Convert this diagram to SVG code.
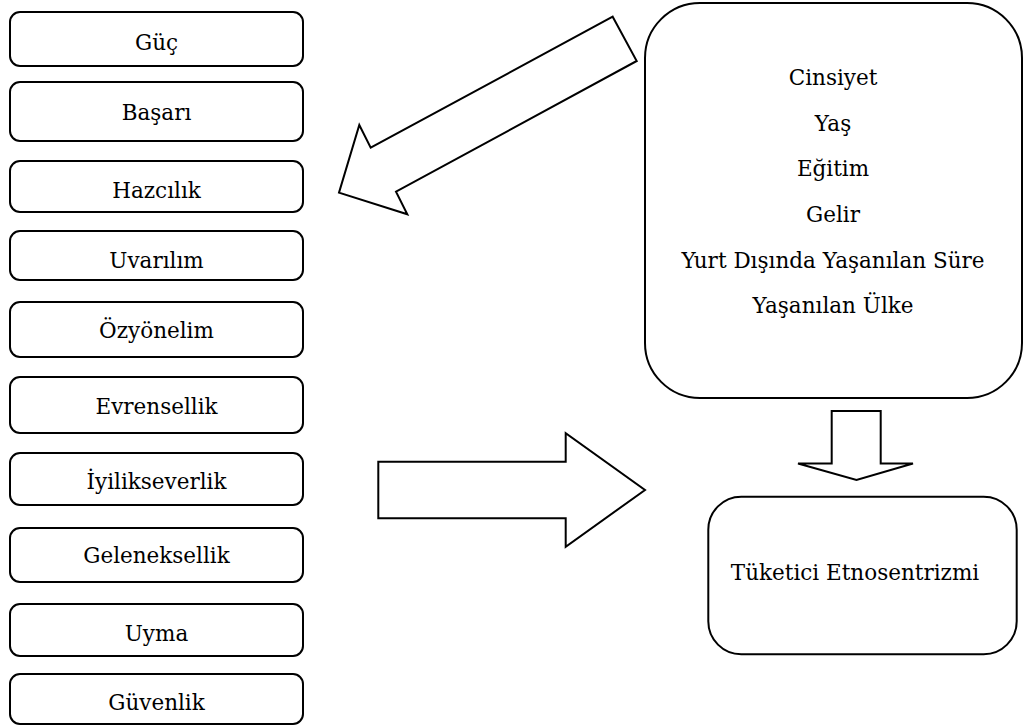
<svg xmlns="http://www.w3.org/2000/svg" width="1025" height="726" viewBox="0 0 1025 726">
<style>
.box{fill:#fff;stroke:#000;stroke-width:2}
.arr{fill:#fff;stroke:#000;stroke-width:2;stroke-linejoin:miter}
.t{font-family:'DejaVu Serif',serif;font-size:21.5px;fill:#000;text-anchor:middle}
</style>
<rect width="1025" height="726" fill="#fff"/>
<g id="connectors">
<polygon class="arr" points="612.7,16.7 636.7,61 396,191.7 407.3,214.3 339,192.7 359.3,125 370.7,147.7"/>
<polygon class="arr" points="378.3,461.7 565.7,461.7 565.7,433.3 645,490 565.7,546.7 565.7,518.3 378.3,518.3"/>
<polygon class="arr" points="831.7,411 880.7,411 880.7,463.5 913,463.5 856.5,480 798,463.5 831.7,463.5"/>
</g>
<g id="n-guc"><rect class="box" x="10" y="12" width="293" height="54" rx="10"/><text class="t" x="156.5" y="50">Güç</text></g>
<g id="n-basari"><rect class="box" x="10" y="82" width="293" height="59" rx="10"/><text class="t" x="156.5" y="120">Başarı</text></g>
<g id="n-hazcilik"><rect class="box" x="10" y="161" width="293" height="51" rx="10"/><text class="t" x="156.5" y="197.5">Hazcılık</text></g>
<g id="n-uvarilim"><rect class="box" x="10" y="231" width="293" height="49" rx="10"/><text class="t" x="156.5" y="268">Uvarılım</text></g>
<g id="n-ozyonelim"><rect class="box" x="10" y="302" width="293" height="55" rx="10"/><text class="t" x="156.5" y="337.5">Özyönelim</text></g>
<g id="n-evrensellik"><rect class="box" x="10" y="377" width="293" height="56" rx="10"/><text class="t" x="156.5" y="414">Evrensellik</text></g>
<g id="n-iyilikseverlik"><rect class="box" x="10" y="453" width="293" height="52" rx="10"/><text class="t" x="156.5" y="489">İyilikseverlik</text></g>
<g id="n-geleneksellik"><rect class="box" x="10" y="528" width="293" height="54" rx="10"/><text class="t" x="156.5" y="563">Geleneksellik</text></g>
<g id="n-uyma"><rect class="box" x="10" y="604" width="293" height="52" rx="10"/><text class="t" x="156.5" y="641">Uyma</text></g>
<g id="n-guvenlik"><rect class="box" x="10" y="674" width="293" height="50" rx="10"/><text class="t" x="156.5" y="710">Güvenlik</text></g>
<g id="n-demografik"><rect class="box" x="645" y="3" width="377" height="395" rx="55"/>
<text class="t" x="833" y="85">Cinsiyet</text>
<text class="t" x="833" y="130.7">Yaş</text>
<text class="t" x="833" y="176.3">Eğitim</text>
<text class="t" x="833" y="222">Gelir</text>
<text class="t" x="833" y="267.7">Yurt Dışında Yaşanılan Süre</text>
<text class="t" x="833" y="313.3">Yaşanılan Ülke</text>
</g>
<g id="n-etnosentrizm"><rect class="box" x="708.3" y="496.7" width="308.4" height="157.6" rx="33"/><text class="t" x="855" y="580">Tüketici Etnosentrizmi</text></g>
</svg>
